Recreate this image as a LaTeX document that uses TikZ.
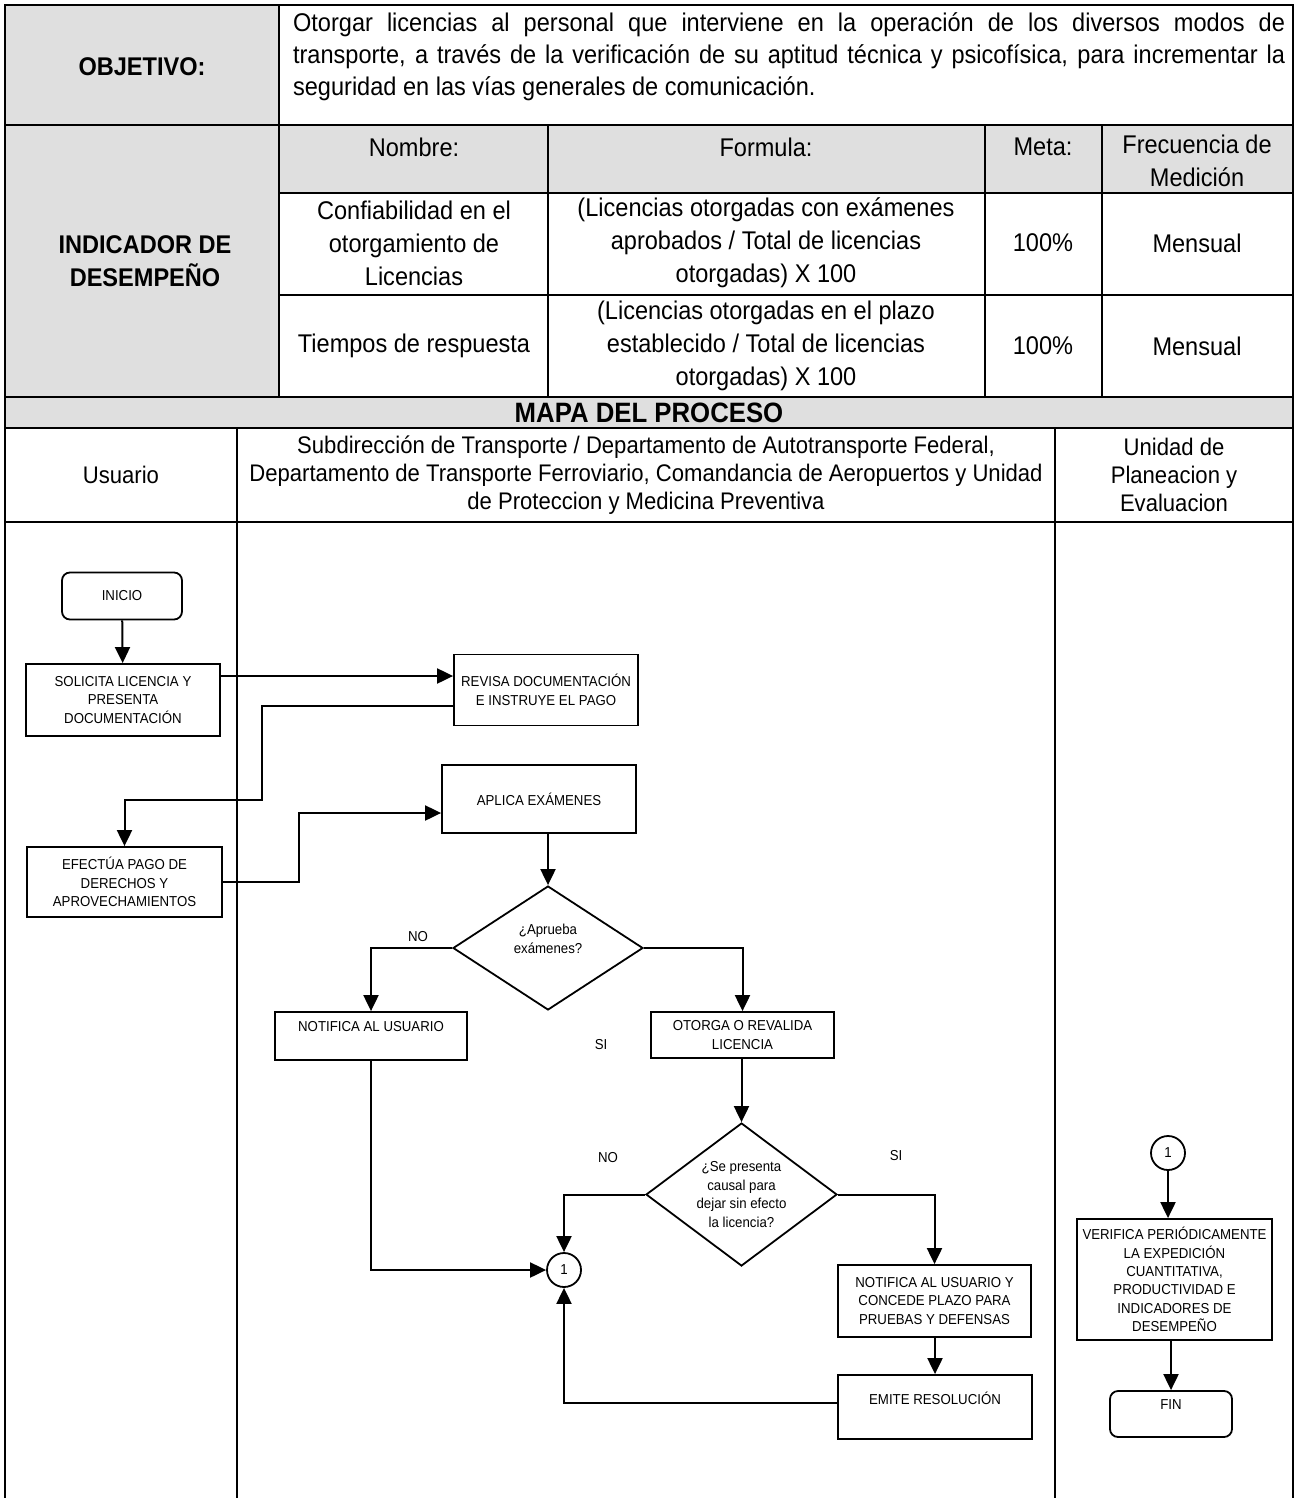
\documentclass[tikz,border=0pt]{standalone}
\usepackage{fontspec}
\setmainfont{Liberation Sans}[FakeStretch=0.92]
\usetikzlibrary{shapes.geometric,arrows.meta}

\begin{document}
\begin{tikzpicture}[x=0.5pt,y=-0.5pt,line width=1.1pt]
    \tikzstyle{cell}=[align=center, inner sep=0pt, font=\fontsize{12.8}{16.5}\selectfont]
    \tikzstyle{head}=[cell, font=\fontsize{12.8}{16.5}\selectfont\bfseries]
    \tikzstyle{lane}=[cell, font=\fontsize{12}{14}\selectfont]
    \tikzstyle{proc}=[draw, rectangle, line width=0.9pt, align=center, inner sep=1pt, font=\fontsize{7.2}{9.2}\selectfont]
    \tikzstyle{term}=[proc, rounded corners=4pt]
    \tikzstyle{dec}=[proc, diamond, inner sep=0pt]
    \tikzstyle{conn}=[proc, circle, minimum size=17pt, inner sep=0pt]
    \tikzstyle{flow}=[-{Triangle[length=8pt,width=7.5pt]}, line width=1pt]
    \tikzstyle{annot}=[inner sep=0pt, font=\fontsize{7.2}{9}\selectfont]

    \useasboundingbox (0,0) rectangle (1298,1498);

    % Draw the gray cells
    \fill[gray!25] (5,5) rectangle (279,397);
    \fill[gray!25] (279,125) rectangle (1293,193);
    \fill[gray!25] (5,397) rectangle (1293,428);

    % Draw the table rules
    \draw (5,1498) -- (5,5) -- (1293,5) -- (1293,1498);
    \foreach \y in {125,397,428,522}
      \draw (5,\y) -- (1293,\y);
    \foreach \y in {193,295}
      \draw (279,\y) -- (1293,\y);
    \draw (279,5) -- (279,397);
    \foreach \x in {548,985,1102}
      \draw (\x,125) -- (\x,397);
    \foreach \x in {237,1055}
      \draw (\x,428) -- (\x,1498);

    % Objective row
    \node[head] (objetivo) at (142,67) {OBJETIVO:};
    \node[cell, anchor=base west, text width=496pt, align=justify, font=\fontsize{12.8}{16}\selectfont] (obj-text) at (292,32)
      {Otorgar licencias al personal que interviene en la operación de los diversos modos de\linebreak
       transporte, a través de la verificación de su aptitud técnica y psicofísica, para incrementar la\linebreak
       seguridad en las vías generales de comunicación.};

    % Indicator rows
    \node[head] (indicador) at (145,261) {INDICADOR DE\\DESEMPEÑO};
    \foreach \name / \x / \txt in {nombre/414/Nombre:, formula/766/Formula:, meta/1043/Meta:}
      \node[cell] (H-\name) at (\x,147) {\txt};
    \node[cell] (H-frecuencia) at (1197,161) {Frecuencia de\\Medición};

    \node[cell] (R1-nombre) at (414,243) {Confiabilidad en el\\otorgamiento de\\Licencias};
    \node[cell] (R1-formula) at (766,243) {(Licencias otorgadas con exámenes\\aprobados / Total de licencias\\otorgadas) X 100};
    \node[cell] (R2-nombre) at (414,346) {Tiempos de respuesta};
    \node[cell] (R2-formula) at (766,346) {(Licencias otorgadas en el plazo\\establecido / Total de licencias\\otorgadas) X 100};
    \foreach \row / \y in {R1/243, R2/346}
    {
      \node[cell] (\row-meta) at (1043,\y) {100\%};
      \node[cell] (\row-frecuencia) at (1197,\y) {Mensual};
    }

    % Process map header
    \node[head, font=\fontsize{14}{16}\selectfont\bfseries] (mapa) at (649,413) {MAPA DEL PROCESO};
    \node[lane] (L-usuario) at (121,475) {Usuario};
    \node[lane] (L-subdir) at (646,475) {Subdirección de Transporte / Departamento de Autotransporte Federal,\\Departamento de Transporte Ferroviario, Comandancia de Aeropuertos y Unidad\\de Proteccion y Medicina Preventiva};
    \node[lane] (L-unidad) at (1174,475) {Unidad de\\Planeacion y\\Evaluacion};

    % Draw the flow nodes
    \node[term, minimum width=60pt, minimum height=23.5pt] (inicio) at (122,596) {INICIO};
    \node[proc, minimum width=97pt, minimum height=36pt] (solicita) at (123,700) {SOLICITA LICENCIA Y\\PRESENTA\\DOCUMENTACIÓN};
    \node[proc, minimum width=92pt, minimum height=35.5pt] (revisa) at (546,690) {REVISA DOCUMENTACIÓN\\E INSTRUYE EL PAGO};
    \node[proc, minimum width=97pt, minimum height=34pt] (aplica) at (539,799) {APLICA EXÁMENES};
    \node[proc, minimum width=97.5pt, minimum height=35pt] (efectua) at (124.5,882) {EFECTÚA PAGO DE\\DERECHOS Y\\APROVECHAMIENTOS};
    \node[dec, aspect=1.5, minimum width=95pt, minimum height=62pt] (dec-1) at (548,948) {¿Aprueba\\exámenes?\\\mbox{}};
    \node[proc, minimum width=96pt, minimum height=24pt] (notifica) at (371,1036) {NOTIFICA AL USUARIO\\\mbox{}};
    \node[proc, minimum width=91.5pt, minimum height=23pt] (otorga) at (742.5,1035) {OTORGA O REVALIDA\\LICENCIA};
    \node[dec, aspect=1.34, minimum width=95.5pt, minimum height=71.5pt] (dec-2) at (741.5,1194.5) {¿Se presenta\\causal para\\dejar sin efecto\\la licencia?};
    \node[conn] (con-1) at (564,1270) {1};
    \node[proc, minimum width=96.5pt, minimum height=36pt] (notifica-2) at (934.5,1301) {NOTIFICA AL USUARIO Y\\CONCEDE PLAZO PARA\\PRUEBAS Y DEFENSAS};
    \node[proc, minimum width=97pt, minimum height=32pt] (emite) at (935,1407) {EMITE RESOLUCIÓN\\\mbox{}};
    \node[conn] (con-2) at (1168,1153) {1};
    \node[proc, minimum width=97.5pt, minimum height=60.5pt] (verifica) at (1174.5,1279.5) {VERIFICA PERIÓDICAMENTE\\LA EXPEDICIÓN\\CUANTITATIVA,\\PRODUCTIVIDAD E\\INDICADORES DE\\DESEMPEÑO};
    \node[term, minimum width=61pt, minimum height=23pt] (fin) at (1171,1414) {FIN\\\mbox{}};

    % Branch labels
    \node[annot] (no-1) at (418,937) {NO};
    \node[annot] (si-1) at (601,1045) {SI};
    \node[annot] (no-2) at (608,1158) {NO};
    \node[annot] (si-2) at (896,1156) {SI};

    % Draw the connectors
    \coordinate (bend-1) at (262,800);
    \coordinate (bend-2) at (299,813);
    \draw[flow] (inicio) -- (solicita);
    \draw[flow] ([yshift=12pt]solicita.east) -- ([yshift=12pt]solicita.east -| revisa.west);
    \draw[flow] ([yshift=-8pt]revisa.west) -| (bend-1) -| (efectua.north);
    \draw[flow] (efectua.east) -| (bend-2) -- (bend-2 -| aplica.west);
    \draw[flow] (aplica.south -| dec-1.north) -- (dec-1.north);
    \draw[flow] (dec-1.west) -| (notifica.north);
    \draw[flow] (dec-1.east) -| (otorga.north);
    \draw[flow] (notifica.south) |- (con-1.west);
    \draw[flow] (otorga.south -| dec-2.north) -- (dec-2.north);
    \draw[flow] (dec-2.west) -| (con-1.north);
    \draw[flow] (dec-2.east) -| (notifica-2.north);
    \draw[flow] (notifica-2.south -| emite.north) -- (emite.north);
    \draw[flow] ([yshift=2pt]emite.west) -| (con-1.south);
    \draw[flow] (con-2) -- (con-2 |- verifica.north);
    \draw[flow] (verifica.south -| fin.north) -- (fin.north);
\end{tikzpicture}
\end{document}
